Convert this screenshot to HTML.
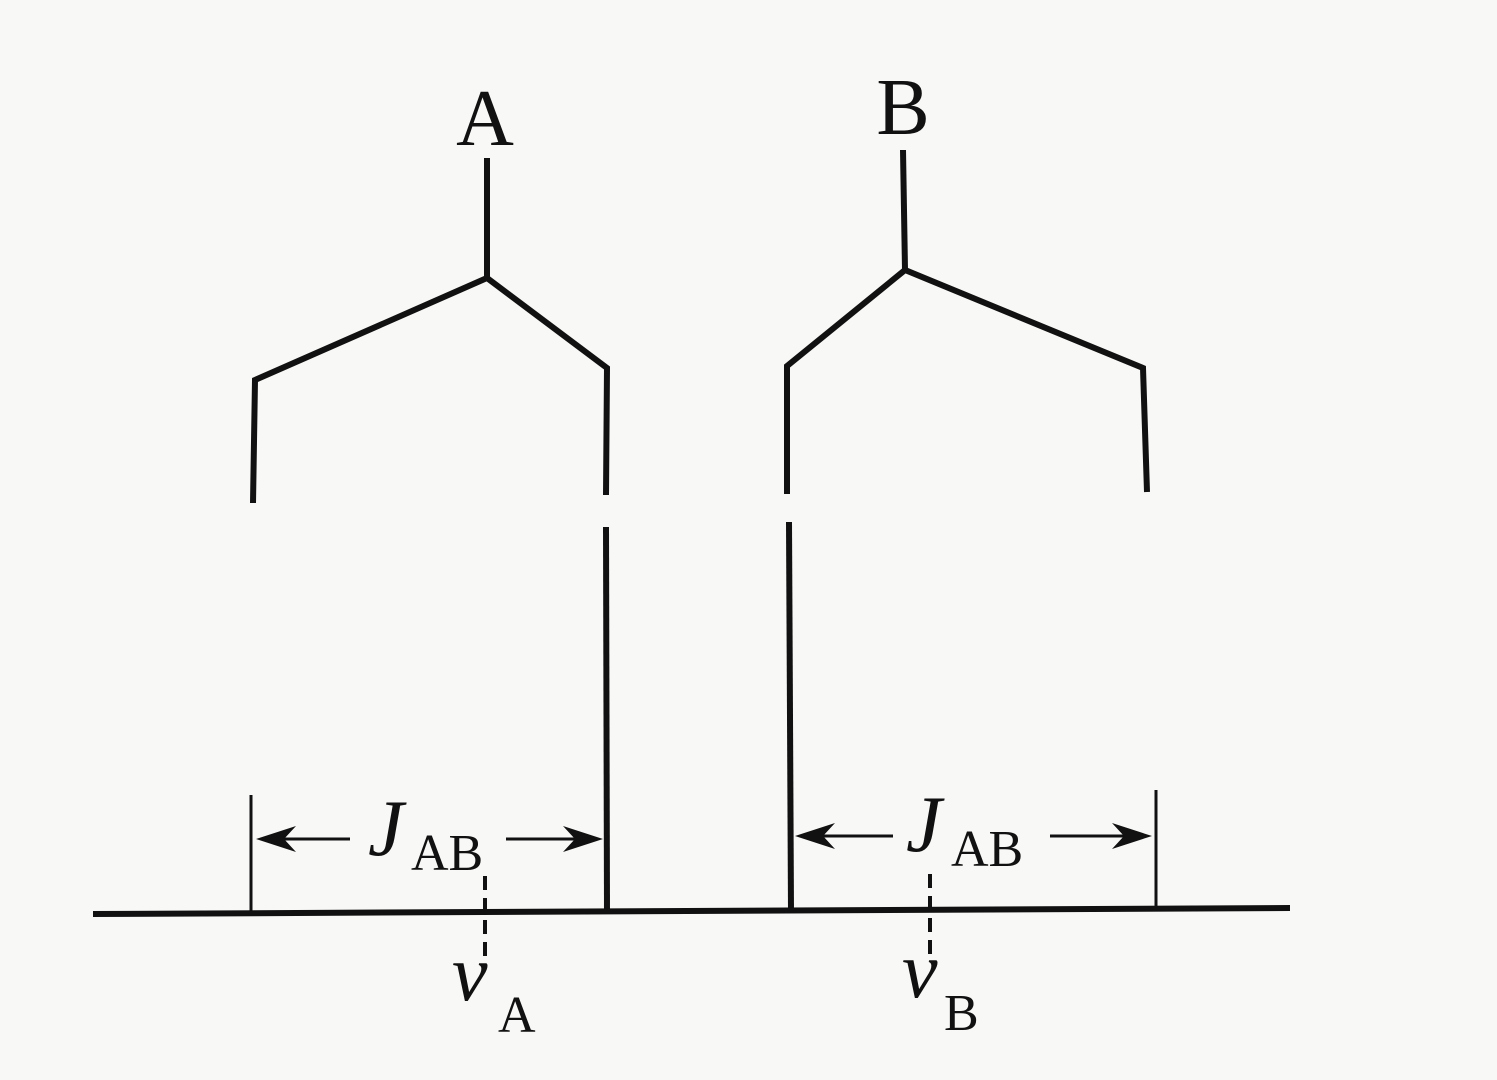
<!DOCTYPE html>
<html><head><meta charset="utf-8"><style>
html,body{margin:0;padding:0;background:#f8f8f6;}
svg{display:block}
text{font-family:"Liberation Serif",serif;fill:#111}
</style></head><body>
<svg width="1497" height="1080" viewBox="0 0 1497 1080">
<rect width="1497" height="1080" fill="#f8f8f6"/>
<g stroke="#111" stroke-width="6" fill="none" stroke-linejoin="miter">
<polyline points="253,503 255,380 487,278 607,368 606,495"/>
<line x1="487" y1="158" x2="487" y2="278"/>
<line x1="606" y1="527" x2="607" y2="912"/>
<polyline points="787,494 787,366 905,270 1143,368 1147,492"/>
<line x1="903" y1="150" x2="905" y2="270"/>
<line x1="789" y1="522" x2="791" y2="912"/>
<line x1="93" y1="914" x2="1290" y2="908"/>
</g>
<g stroke="#111" stroke-width="3" fill="none">
<line x1="251" y1="795" x2="251" y2="912"/>
<line x1="1156" y1="790" x2="1156" y2="908"/>
<line x1="262" y1="839" x2="350" y2="839"/>
<line x1="506" y1="839" x2="596" y2="839"/>
<line x1="802" y1="836" x2="893" y2="836"/>
<line x1="1050" y1="836" x2="1145" y2="836"/>
<line x1="485" y1="876" x2="485" y2="962" stroke-width="4" stroke-dasharray="14,8"/>
<line x1="930" y1="874" x2="930" y2="958" stroke-width="4" stroke-dasharray="14,8"/>
</g>
<g fill="#111">
<polygon points="256,839 296,826 284,839 296,852"/>
<polygon points="603,839 563,826 575,839 563,852"/>
<polygon points="795,836 835,823 823,836 835,849"/>
<polygon points="1152,836 1112,823 1124,836 1112,849"/>
</g>
<text x="485" y="145" font-size="80" text-anchor="middle">A</text>
<text x="903" y="134" font-size="80" text-anchor="middle">B</text>
<text x="368" y="855" font-size="80" font-style="italic">J</text>
<text x="411" y="870" font-size="52">AB</text>
<text x="906" y="851" font-size="80" font-style="italic">J</text>
<text x="951" y="866" font-size="52">AB</text>
<text x="452" y="1000" font-size="80" font-style="italic">v</text>
<text x="498" y="1032" font-size="52">A</text>
<text x="902" y="997" font-size="80" font-style="italic">v</text>
<text x="944" y="1030" font-size="52">B</text>
</svg>
</body></html>
